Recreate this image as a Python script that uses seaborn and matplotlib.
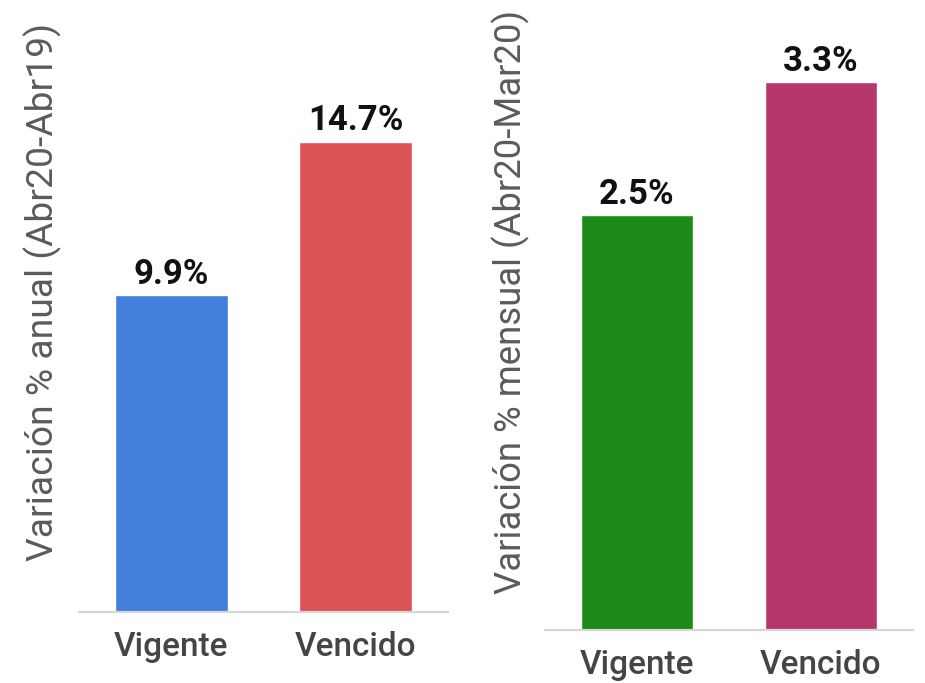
import matplotlib
matplotlib.use("Agg")
import matplotlib.pyplot as plt
import seaborn as sns
import pandas as pd

categorias = ["Vigente", "Vencido"]
anual = [9.9, 14.7]
mensual = [2.5, 3.3]
colores_anual = ["#4380dd", "#dc5356"]
colores_mensual = ["#1b8a17", "#b5376b"]

sns.set_theme(style="white")
plt.rcParams["font.family"] = ["Roboto", "DejaVu Sans"]

fig = plt.figure(figsize=(9.25, 6.83), dpi=100)
W, H = 925, 683

# posiciones en pixeles: (izq, abajo, ancho, alto)
ax1 = fig.add_axes([79 / W, (H - 612) / H, 369 / W, 592 / H])
ax2 = fig.add_axes([545 / W, (H - 630) / H, 368 / W, 610 / H])


def panel(ax, valores, colores, etiqueta, ymax, lab_xy, lab_size):
    df = pd.DataFrame({"cat": categorias, "val": valores})
    sns.barplot(data=df, x="cat", y="val", hue="cat", palette=colores,
                width=0.614, legend=False, ax=ax, saturation=1)
    ax.set_xlim(-0.5, 1.5)
    ax.set_ylim(0, ymax)
    for c in ax.containers:
        ax.bar_label(c, labels=[f"{v:.1f}%" for v in c.datavalues],
                     padding=3, fontsize=25, fontweight="bold", color="#111111")
    ax.set_xlabel("")
    ax.set_ylabel(etiqueta, fontsize=lab_size, color="#5b5b5b")
    ax.yaxis.set_label_coords(*lab_xy)
    ax.set_yticks([])
    ax.tick_params(axis="x", length=0, pad=14, labelsize=24, labelcolor="#454545")
    for t in ax.get_xticklabels():
        t.set_fontweight("medium")
    for s in ["top", "right", "left"]:
        ax.spines[s].set_visible(False)
    ax.spines["bottom"].set_color("#d6d6d6")
    ax.spines["bottom"].set_linewidth(1.6)


panel(ax1, anual, colores_anual, "Variación % anual (Abr20-Abr19)", 592 / 32.0, (-0.046, 0.54), 26.8)
panel(ax2, mensual, colores_mensual, "Variación % mensual (Abr20-Mar20)", 610 / 166.0, (-0.041, 0.538), 26.3)

fig.savefig("out.png", dpi=100)
